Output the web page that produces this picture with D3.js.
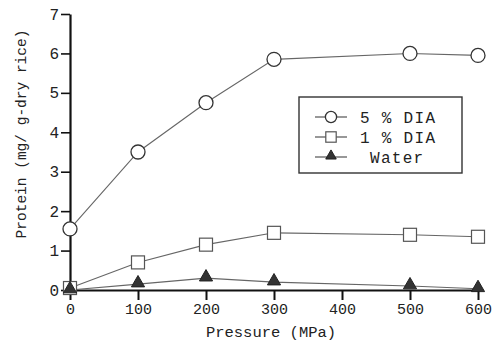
<!DOCTYPE html>
<html>
<head>
<meta charset="utf-8">
<script src="https://cdn.jsdelivr.net/npm/d3@7"></script>
<style>
  body { margin: 0; background: #fff; }
  text { font-family: "Liberation Mono", "DejaVu Sans Mono", monospace; fill: #222; }
</style>
</head>
<body>
<div id="chart"></div>
<script>
const pressure = [0, 100, 200, 300, 500, 600];
const dia5 = [1.55, 3.5, 4.75, 5.85, 6.0, 5.95];
const dia1 = [0.05, 0.7, 1.15, 1.45, 1.4, 1.35];
const water = [0, 0.15, 0.3, 0.2, 0.1, 0.03];
const xTicks = [0, 100, 200, 300, 400, 500, 600];
const yTicks = [0, 1, 2, 3, 4, 5, 6, 7];

const width = 497, height = 343;
const svg = d3.select('#chart').append('svg')
  .attr('width', width).attr('height', height);

const x = d3.scaleLinear().domain([0, 600]).range([70, 478]);
const y = d3.scaleLinear().domain([0, 7]).range([290, 14]);

// x axis
const xAxis = svg.append('g')
  .attr('transform', `translate(0, ${y(0)})`)
  .call(d3.axisBottom(x).tickValues(xTicks).tickSize(10).tickSizeOuter(0).tickPadding(3));
xAxis.select('.domain').attr('stroke', '#111').attr('stroke-width', 2.2);
xAxis.selectAll('.tick line').attr('stroke', '#111').attr('stroke-width', 2);
xAxis.selectAll('text').style('font-size', '15px').attr('fill', '#222');

// y axis
const yAxis = svg.append('g')
  .attr('transform', `translate(${x(0)}, 0)`)
  .call(d3.axisLeft(y).tickValues(yTicks).tickFormat(d3.format('d')).tickSize(9).tickSizeOuter(0).tickPadding(2));
yAxis.select('.domain').attr('stroke', '#111').attr('stroke-width', 2.2);
yAxis.selectAll('.tick line').attr('stroke', '#111').attr('stroke-width', 1.6);
yAxis.selectAll('text').style('font-size', '16px').attr('fill', '#222');

// axis titles
svg.append('text')
  .attr('x', 271).attr('y', 337)
  .attr('text-anchor', 'middle')
  .style('font-size', '15.5px')
  .text('Pressure (MPa)');

svg.append('text')
  .attr('transform', 'translate(26, 134) rotate(-90)')
  .attr('text-anchor', 'middle')
  .style('font-size', '14.5px')
  .text('Protein (mg/ g-dry rice)');

const line = d3.line().x((d, i) => x(pressure[i])).y(d => y(d));

const series = [
  { name: '5 % DIA', values: dia5, shape: 'circle' },
  { name: '1 % DIA', values: dia1, shape: 'square' },
  { name: 'Water', values: water, shape: 'triangle' }
];

function drawMarker(g, shape, cx, cy, k) {
  if (shape === 'circle') {
    g.append('circle').attr('cx', cx).attr('cy', cy).attr('r', 7 * k)
      .attr('fill', '#fff').attr('stroke', '#333').attr('stroke-width', 1.3);
  } else if (shape === 'square') {
    const s = 13 * k;
    g.append('rect').attr('x', cx - s / 2).attr('y', cy - s / 2).attr('width', s).attr('height', s)
      .attr('fill', '#fff').attr('stroke', '#555').attr('stroke-width', 1.2);
  } else {
    g.append('path')
      .attr('d', d3.symbol().type(d3.symbolTriangle).size(75 * k * k)())
      .attr('transform', `translate(${cx}, ${cy - 1})`)
      .attr('fill', '#333').attr('stroke', '#222').attr('stroke-width', 1);
  }
}

series.forEach(s => {
  svg.append('path')
    .datum(s.values)
    .attr('d', line)
    .attr('fill', 'none')
    .attr('stroke', '#666')
    .attr('stroke-width', 1.1);
});
series.forEach(s => {
  const g = svg.append('g');
  s.values.forEach((v, i) => drawMarker(g, s.shape, x(pressure[i]), y(v), 1));
});

// legend
const legend = svg.append('g');
legend.append('rect')
  .attr('x', 299).attr('y', 97).attr('width', 163).attr('height', 76)
  .attr('fill', '#fff').attr('stroke', '#333').attr('stroke-width', 1.4);
series.forEach((s, i) => {
  const ly = 117 + i * 20;
  legend.append('line')
    .attr('x1', 315).attr('x2', 347).attr('y1', ly).attr('y2', ly)
    .attr('stroke', '#444').attr('stroke-width', 1.1);
  drawMarker(legend, s.shape, 331, ly, 0.8);
  legend.append('text')
    .attr('x', i === 2 ? 370 : 360).attr('y', ly + 6)
    .style('font-size', '16px')
    .style('letter-spacing', '1.3px')
    .text(s.name);
});
</script>
</body>
</html>
